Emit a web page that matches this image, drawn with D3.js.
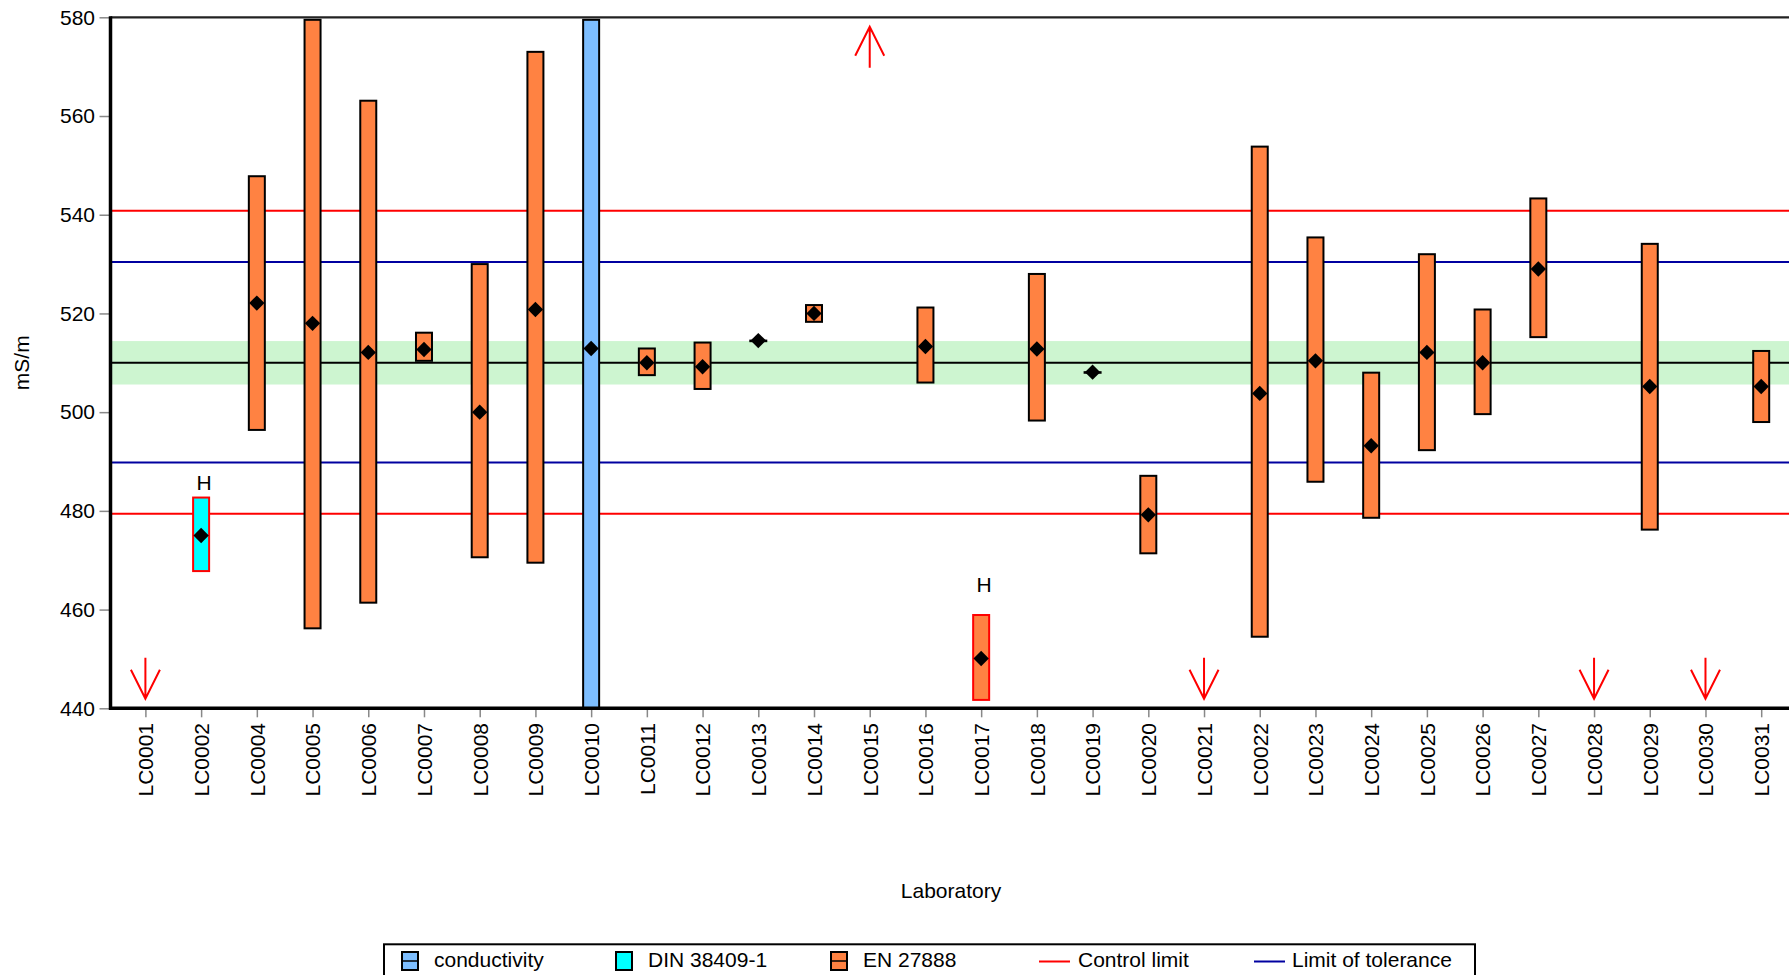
<!DOCTYPE html>
<html>
<head>
<meta charset="utf-8">
<script src="https://cdn.jsdelivr.net/npm/d3@7"></script>
<style>
  html, body { margin: 0; padding: 0; background: #fff; }
  svg { display: block; font-family: "Liberation Sans", Arial, sans-serif; }
</style>
</head>
<body>
<svg id="chart" width="1789" height="975"></svg>
<script>
// Laboratories on the x axis
const labs = ["LC0001","LC0002","LC0004","LC0005","LC0006","LC0007","LC0008","LC0009","LC0010",
  "LC0011","LC0012","LC0013","LC0014","LC0015","LC0016","LC0017","LC0018","LC0019","LC0020",
  "LC0021","LC0022","LC0023","LC0024","LC0025","LC0026","LC0027","LC0028","LC0029","LC0030","LC0031"];

// Method used by each laboratory (null = result outside the axis range)
const methods = [null,"DIN 38409-1","EN 27888","EN 27888","EN 27888","EN 27888","EN 27888","EN 27888","conductivity",
  "EN 27888","EN 27888","EN 27888","EN 27888",null,"EN 27888","EN 27888","EN 27888","EN 27888","EN 27888",
  null,"EN 27888","EN 27888","EN 27888","EN 27888","EN 27888","EN 27888",null,"EN 27888",null,"EN 27888"];

// Reported mean and uncertainty interval, mS/m
const means  = [null,475.0,522.1,518.0,512.1,512.7,500.0,520.8,512.9,
  510.0,509.2,514.5,520.0,null,513.3,450.1,512.8,508.1,479.2,
  null,503.8,510.4,493.2,512.1,510.0,529.0,null,505.2,null,505.2];
const lowers = [null,467.8,496.4,456.2,461.4,510.4,470.6,469.5,440.0,
  507.5,504.7,514.5,518.3,null,506.0,441.7,498.3,508.1,471.4,
  null,454.5,485.9,478.6,492.3,499.6,515.2,null,476.2,null,498.0];
const uppers = [null,482.7,547.8,580.0,563.1,516.1,530.0,573.0,580.0,
  512.9,514.1,514.5,521.7,null,521.2,458.9,528.0,508.1,487.1,
  null,553.8,535.4,508.0,532.0,520.8,543.3,null,534.1,null,512.4];

// Results flagged "H", with the level of the flag text
const flagLabs   = ["LC0002","LC0017"];
const flagLevels = [484.2, 463.6];
const flagText   = "H";

// Results off the scale
const belowLabs = ["LC0001","LC0021","LC0028","LC0030"];
const aboveLabs = ["LC0015"];

// Reference lines
const assigned    = 510.0;
const assignedUnc = [505.6, 514.4];
const controlLimits   = [479.4, 540.8];
const toleranceLimits = [489.8, 530.4];

const yTicks = [440, 460, 480, 500, 520, 540, 560, 580];
const yDomain = [440, 580];

const legendItems = ["conductivity","DIN 38409-1","EN 27888","Control limit","Limit of tolerance"];

// ---- layout & styles ----
const W = 1789, H = 975;
const plot = { left: 110.5, right: 1800, top: 17.3, bottom: 708.3 };
const colors = {
  "conductivity": "#7dbeff",
  "DIN 38409-1": "#00ffff",
  "EN 27888": "#ff8242",
  band: "#cdf5d0",
  control: "#ff0000",
  tolerance: "#0000a0"
};
const fontSize = 21;
const barW = 16;

const svg = d3.select("#chart");

const x = d3.scalePoint().domain(labs).range([145.4, 1761.2]);
const y = d3.scaleLinear().domain(yDomain).range([plot.bottom, plot.top]);

// assigned value uncertainty band
svg.append("rect")
  .attr("x", plot.left).attr("width", plot.right - plot.left)
  .attr("y", y(assignedUnc[1])).attr("height", y(assignedUnc[0]) - y(assignedUnc[1]))
  .attr("fill", colors.band);

// horizontal reference lines
function hline(v, color, w) {
  svg.append("line")
    .attr("x1", plot.left).attr("x2", plot.right)
    .attr("y1", y(v)).attr("y2", y(v))
    .attr("stroke", color).attr("stroke-width", w);
}
hline(assigned, "#000", 2);
toleranceLimits.forEach(v => hline(v, colors.tolerance, 2));
controlLimits.forEach(v => hline(v, colors.control, 2));

// uncertainty bars
const rows = labs.map((lab, i) => ({
  lab, method: methods[i], mean: means[i], lo: lowers[i], hi: uppers[i],
  flagged: flagLabs.includes(lab)
})).filter(d => d.method !== null);

const clampY = v => Math.max(plot.top + 2.5, Math.min(plot.bottom, y(v)));

svg.append("g").selectAll("rect").data(rows).join("rect")
  .attr("x", d => x(d.lab) - barW / 2)
  .attr("width", barW)
  .attr("y", d => clampY(d.hi))
  .attr("height", d => Math.max(0.6, clampY(d.lo) - clampY(d.hi)))
  .attr("fill", d => colors[d.method])
  .attr("stroke", d => d.flagged ? "#ff0000" : "#000")
  .attr("stroke-width", 2);

// means
const diamond = d3.symbol().type(d3.symbolSquare).size(118);
svg.append("g").selectAll("path").data(rows).join("path")
  .attr("d", diamond)
  .attr("transform", d => `translate(${x(d.lab)},${y(d.mean)}) rotate(45)`)
  .attr("fill", "#000");

// flags
svg.append("g").selectAll("text").data(flagLabs).join("text")
  .attr("x", d => x(d) + 3)
  .attr("y", (d, i) => y(flagLevels[i]))
  .attr("text-anchor", "middle")
  .attr("font-size", fontSize)
  .attr("fill", "#000")
  .text(flagText);

// off-scale arrows
const arrowLen = 41, headLen = 29, headHalf = 14.5;
function arrow(cx, tipY, dir) {
  const p = d3.path();
  p.moveTo(cx, tipY - dir * arrowLen); p.lineTo(cx, tipY);
  p.moveTo(cx - headHalf, tipY - dir * headLen); p.lineTo(cx, tipY); p.lineTo(cx + headHalf, tipY - dir * headLen);
  svg.append("path").attr("d", p.toString())
    .attr("fill", "none").attr("stroke", colors.control).attr("stroke-width", 2);
}
belowLabs.forEach(l => arrow(x(l), plot.bottom - 9.6, 1));
aboveLabs.forEach(l => arrow(x(l), plot.top + 9.4, -1));

// frame: top line
svg.append("line")
  .attr("x1", plot.left).attr("x2", plot.right)
  .attr("y1", plot.top).attr("y2", plot.top)
  .attr("stroke", "#222").attr("stroke-width", 2.2);

// y axis
const gy = svg.append("g").attr("transform", `translate(${plot.left},0)`)
  .call(d3.axisLeft(y).tickValues(yTicks).tickSize(11).tickPadding(4.5).tickFormat(d3.format("d")));
gy.select(".domain").remove();
gy.selectAll(".tick line").attr("stroke", "#888").attr("stroke-width", 1.5);
gy.selectAll(".tick text").attr("font-size", fontSize).attr("fill", "#000").attr("font-family", "Liberation Sans, Arial, sans-serif");

// x axis
const gx = svg.append("g").attr("transform", `translate(0,${plot.bottom})`)
  .call(d3.axisBottom(x).tickSize(9));
gx.select(".domain").remove();
gx.selectAll(".tick line").attr("stroke", "#888").attr("stroke-width", 1.5);
gx.selectAll(".tick text")
  .attr("font-size", fontSize).attr("fill", "#000").attr("font-family", "Liberation Sans, Arial, sans-serif")
  .attr("transform", "rotate(-90)")
  .attr("text-anchor", "end")
  .attr("x", -14.7).attr("y", 0).attr("dy", "0.35em");

// axis lines
svg.append("line")
  .attr("x1", plot.left).attr("x2", plot.left)
  .attr("y1", plot.top - 1).attr("y2", plot.bottom + 1.5)
  .attr("stroke", "#000").attr("stroke-width", 3.5);
svg.append("line")
  .attr("x1", plot.left - 1.5).attr("x2", plot.right)
  .attr("y1", plot.bottom).attr("y2", plot.bottom)
  .attr("stroke", "#000").attr("stroke-width", 3.5);

// axis titles
svg.append("text")
  .attr("transform", `translate(29,${(plot.top + plot.bottom) / 2}) rotate(-90)`)
  .attr("text-anchor", "middle").attr("font-size", fontSize).attr("fill", "#000")
  .text("mS/m");
svg.append("text")
  .attr("x", 951).attr("y", 898)
  .attr("text-anchor", "middle").attr("font-size", fontSize).attr("fill", "#000")
  .text("Laboratory");

// legend
const lg = svg.append("g");
lg.append("rect")
  .attr("x", 384).attr("y", 944.3).attr("width", 1091).attr("height", 45)
  .attr("fill", "#fff").attr("stroke", "#000").attr("stroke-width", 2);
const legendX = [402, 616, 831, 1039, 1254];
const legendTextX = [434, 648, 863, 1078, 1292];
const ly = 961;
legendItems.forEach((name, i) => {
  if (colors[name]) {
    lg.append("rect")
      .attr("x", legendX[i]).attr("y", ly - 9).attr("width", 16).attr("height", 18)
      .attr("fill", colors[name]).attr("stroke", "#000").attr("stroke-width", 2);
    if (name !== "DIN 38409-1") {
      lg.append("line")
        .attr("x1", legendX[i]).attr("x2", legendX[i] + 16)
        .attr("y1", ly).attr("y2", ly)
        .attr("stroke", "#000").attr("stroke-width", 1.5);
    }
  } else {
    lg.append("line")
      .attr("x1", legendX[i]).attr("x2", legendX[i] + 31)
      .attr("y1", ly + 0.5).attr("y2", ly + 0.5)
      .attr("stroke", name === "Control limit" ? colors.control : colors.tolerance)
      .attr("stroke-width", 2);
  }
  lg.append("text")
    .attr("x", legendTextX[i]).attr("y", 967.3)
    .attr("font-size", fontSize).attr("fill", "#000")
    .text(name);
});
</script>
</body>
</html>
